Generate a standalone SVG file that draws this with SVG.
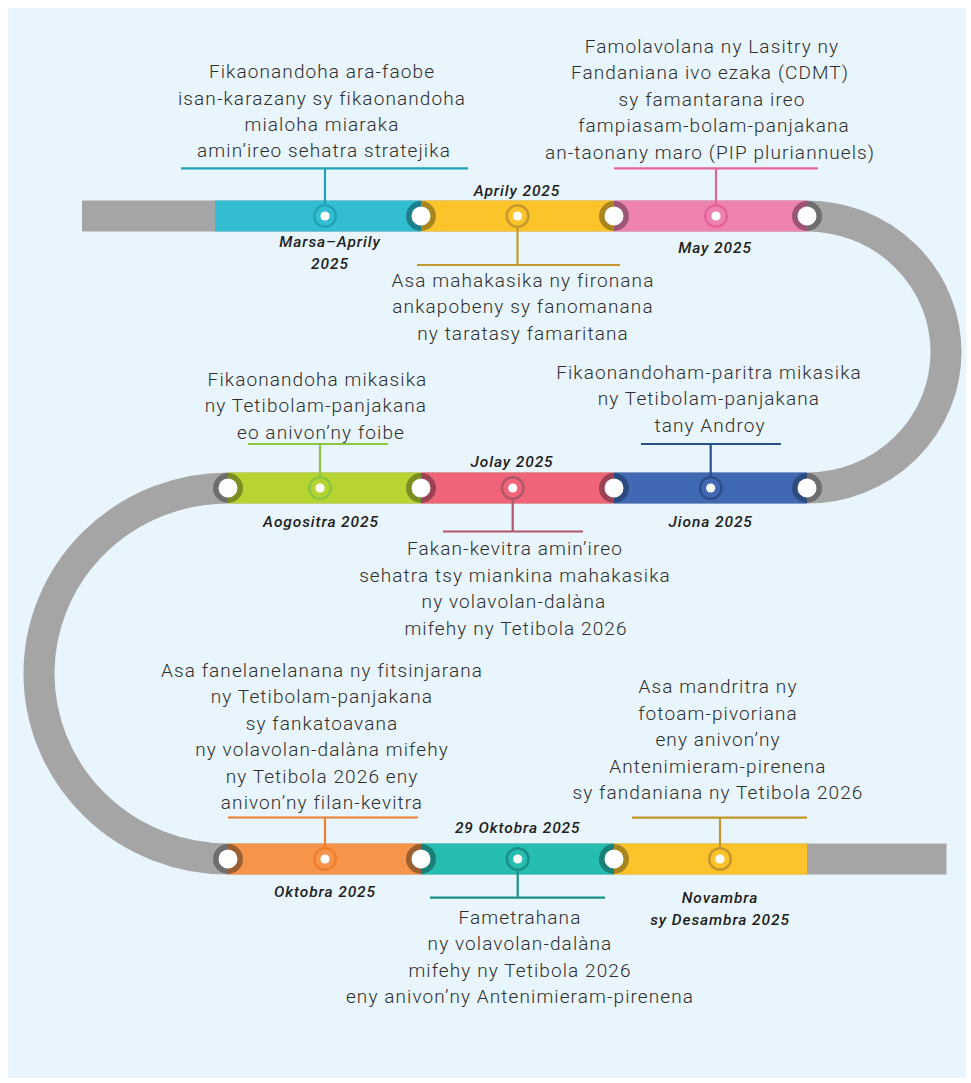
<svg xmlns="http://www.w3.org/2000/svg" width="971" height="1083" viewBox="0 0 971 1083">
<style>
.t{font-family:Roboto,"Liberation Sans",sans-serif;font-weight:300;font-size:19px;letter-spacing:1.1px;fill:#2e2e2e;text-anchor:middle}
.d{font-family:Roboto,"Liberation Sans",sans-serif;font-style:italic;font-weight:500;font-size:15.5px;letter-spacing:0.9px;fill:#1e1e1e;text-anchor:middle}
.w{fill:#ffffff}
.ln{fill:none;stroke-width:2.2}
</style>
<rect x="0" y="0" width="971" height="1083" fill="#ffffff"/>
<rect x="8" y="8" width="958" height="1070" fill="#E9F5FC"/>
<g id="track">
<path d="M82,216 H807 A139,136 0 0 1 807,488 H228 A189,185.5 0 0 0 228,859 H946.5" fill="none" stroke="#A5A5A6" stroke-width="31"/>
<rect x="215" y="200.5" width="206" height="31" fill="#33BDD0"/>
<rect x="421" y="200.5" width="193" height="31" fill="#FCC42A"/>
<rect x="614" y="200.5" width="193" height="31" fill="#EE82B0"/>
<rect x="228" y="472.5" width="193" height="31" fill="#B8D432"/>
<rect x="421" y="472.5" width="193" height="31" fill="#EF6479"/>
<rect x="614" y="472.5" width="193" height="31" fill="#4068B3"/>
<rect x="228" y="843.5" width="193" height="31" fill="#F6944A"/>
<rect x="421" y="843.5" width="193" height="31" fill="#26BDB1"/>
<rect x="614" y="843.5" width="193" height="31" fill="#FCC42A"/>
</g>
<g id="joints">
<g transform="translate(421,216)"><path d="M0,-15 A15,15 0 0 0 0,15 Z" fill="#1E7F8C"/><path d="M0,-15 A15,15 0 0 1 0,15 Z" fill="#A8861F"/><circle r="9.5" class="w"/></g>
<g transform="translate(614,216)"><path d="M0,-15 A15,15 0 0 0 0,15 Z" fill="#A8861F"/><path d="M0,-15 A15,15 0 0 1 0,15 Z" fill="#9C5577"/><circle r="9.5" class="w"/></g>
<g transform="translate(807,216)"><path d="M0,-15 A15,15 0 0 0 0,15 Z" fill="#9C5577"/><path d="M0,-15 A15,15 0 0 1 0,15 Z" fill="#6E6E6F"/><circle r="9.5" class="w"/></g>
<g transform="translate(807,488)"><path d="M0,-15 A15,15 0 0 0 0,15 Z" fill="#2A4A80"/><path d="M0,-15 A15,15 0 0 1 0,15 Z" fill="#6E6E6F"/><circle r="9.5" class="w"/></g>
<g transform="translate(614,488)"><path d="M0,-15 A15,15 0 0 0 0,15 Z" fill="#9B4254"/><path d="M0,-15 A15,15 0 0 1 0,15 Z" fill="#2A4A80"/><circle r="9.5" class="w"/></g>
<g transform="translate(421,488)"><path d="M0,-15 A15,15 0 0 0 0,15 Z" fill="#7A8F23"/><path d="M0,-15 A15,15 0 0 1 0,15 Z" fill="#9B4254"/><circle r="9.5" class="w"/></g>
<g transform="translate(228,488)"><path d="M0,-15 A15,15 0 0 0 0,15 Z" fill="#6E6E6F"/><path d="M0,-15 A15,15 0 0 1 0,15 Z" fill="#7A8F23"/><circle r="9.5" class="w"/></g>
<g transform="translate(228,859)"><path d="M0,-15 A15,15 0 0 0 0,15 Z" fill="#6E6E6F"/><path d="M0,-15 A15,15 0 0 1 0,15 Z" fill="#9C6030"/><circle r="9.5" class="w"/></g>
<g transform="translate(421,859)"><path d="M0,-15 A15,15 0 0 0 0,15 Z" fill="#9C6030"/><path d="M0,-15 A15,15 0 0 1 0,15 Z" fill="#1A7F77"/><circle r="9.5" class="w"/></g>
<g transform="translate(614,859)"><path d="M0,-15 A15,15 0 0 0 0,15 Z" fill="#1A7F77"/><path d="M0,-15 A15,15 0 0 1 0,15 Z" fill="#A8861F"/><circle r="9.5" class="w"/></g>
</g>
<g id="connectors">
<path class="ln" stroke="#1FA3BB" d="M181,168.3 H468 M325,168.3 V205"/>
<path class="ln" stroke="#C49A2E" d="M417,265 H620 M517.5,227 V265"/>
<path class="ln" stroke="#E5639C" d="M614,168.3 H818 M716,168.3 V205"/>
<path class="ln" stroke="#8DC63F" d="M248,444 H388 M320,444 V477"/>
<path class="ln" stroke="#B0566A" d="M443,531.5 H583 M512.7,499 V531.5"/>
<path class="ln" stroke="#2B4F8C" d="M641,444 H781 M710.7,444 V477"/>
<path class="ln" stroke="#F07F2C" d="M228,817.5 H418 M325,817.5 V848"/>
<path class="ln" stroke="#1A9088" d="M430,897.7 H605 M517.7,870 V897.7"/>
<path class="ln" stroke="#C4962A" d="M632,817.7 H807 M720,817.7 V848"/>
</g>
<g id="n1">
<circle cx="325" cy="216" r="10.8" fill="#33BDD0" stroke="#1FA3BB" stroke-width="2.5"/><circle cx="325" cy="216" r="4.6" class="w"/>
<text class="t"><tspan x="322" y="78">Fikaonandoha ara-faobe</tspan><tspan x="322" y="104.5">isan-karazany sy fikaonandoha</tspan><tspan x="322" y="131">mialoha miaraka</tspan><tspan x="324" y="157.3">amin’ireo sehatra stratejika</tspan></text>
<text class="d"><tspan x="330" y="247.3">Marsa–Aprily</tspan><tspan x="330" y="269.3">2025</tspan></text>
</g>
<g id="n2">
<circle cx="517.5" cy="216" r="10.8" fill="#FCC42A" stroke="#C49A2E" stroke-width="2.5"/><circle cx="517.5" cy="216" r="4.6" class="w"/>
<text class="t"><tspan x="523" y="286.7">Asa mahakasika ny fironana</tspan><tspan x="523" y="313.3">ankapobeny sy fanomanana</tspan><tspan x="523" y="340">ny taratasy famaritana</tspan></text>
<text class="d" x="517" y="196">Aprily 2025</text>
</g>
<g id="n3">
<circle cx="716" cy="216" r="10.8" fill="#EE82B0" stroke="#E5639C" stroke-width="2.5"/><circle cx="716" cy="216" r="4.6" class="w"/>
<text class="t"><tspan x="712" y="53.3">Famolavolana ny Lasitry ny</tspan><tspan x="710" y="79.3">Fandaniana ivo ezaka (CDMT)</tspan><tspan x="712" y="106">sy famantarana ireo</tspan><tspan x="714" y="132.3">fampiasam-bolam-panjakana</tspan><tspan x="710" y="159">an-taonany maro (PIP pluriannuels)</tspan></text>
<text class="d" x="715" y="252.7">May 2025</text>
</g>
<g id="n4">
<circle cx="710.7" cy="488" r="10.8" fill="#4068B3" stroke="#2B4F8C" stroke-width="2.5"/><circle cx="710.7" cy="488" r="4.6" class="w"/>
<text class="t"><tspan x="709" y="378.5">Fikaonandoham-paritra mikasika</tspan><tspan x="709" y="405">ny Tetibolam-panjakana</tspan><tspan x="710" y="431.5">tany Androy</tspan></text>
<text class="d" x="710.7" y="527">Jiona 2025</text>
</g>
<g id="n5">
<circle cx="512.7" cy="488" r="10.8" fill="#EF6479" stroke="#B0566A" stroke-width="2.5"/><circle cx="512.7" cy="488" r="4.6" class="w"/>
<text class="t"><tspan x="515" y="555">Fakan-kevitra amin’ireo</tspan><tspan x="515" y="581.5">sehatra tsy miankina mahakasika</tspan><tspan x="514" y="608">ny volavolan-dalàna</tspan><tspan x="516" y="634.5">mifehy ny Tetibola 2026</tspan></text>
<text class="d" x="512" y="466.7">Jolay 2025</text>
</g>
<g id="n6">
<circle cx="320" cy="488" r="10.8" fill="#B8D432" stroke="#8DC63F" stroke-width="2.5"/><circle cx="320" cy="488" r="4.6" class="w"/>
<text class="t"><tspan x="317.5" y="385.5">Fikaonandoha mikasika</tspan><tspan x="316" y="412">ny Tetibolam-panjakana</tspan><tspan x="321" y="438.5">eo anivon’ny foibe</tspan></text>
<text class="d" x="321" y="527">Aogositra 2025</text>
</g>
<g id="n7">
<circle cx="325" cy="859" r="10.8" fill="#F6944A" stroke="#F07F2C" stroke-width="2.5"/><circle cx="325" cy="859" r="4.6" class="w"/>
<text class="t"><tspan x="322" y="676.5">Asa fanelanelanana ny fitsinjarana</tspan><tspan x="322" y="703">ny Tetibolam-panjakana</tspan><tspan x="322" y="729.5">sy fankatoavana</tspan><tspan x="322" y="756">ny volavolan-dalàna mifehy</tspan><tspan x="322" y="782.5">ny Tetibola 2026 eny</tspan><tspan x="322" y="809">anivon’ny filan-kevitra</tspan></text>
<text class="d" x="325" y="897.3">Oktobra 2025</text>
</g>
<g id="n8">
<circle cx="517.7" cy="859" r="10.8" fill="#26BDB1" stroke="#1A9088" stroke-width="2.5"/><circle cx="517.7" cy="859" r="4.6" class="w"/>
<text class="t"><tspan x="520" y="923.5">Fametrahana</tspan><tspan x="520" y="950">ny volavolan-dalàna</tspan><tspan x="520" y="976.5">mifehy ny Tetibola 2026</tspan><tspan x="520" y="1003">eny anivon’ny Antenimieram-pirenena</tspan></text>
<text class="d" x="517.7" y="832.7">29 Oktobra 2025</text>
</g>
<g id="n9">
<circle cx="720" cy="859" r="10.8" fill="#FCC42A" stroke="#C4962A" stroke-width="2.5"/><circle cx="720" cy="859" r="4.6" class="w"/>
<text class="t"><tspan x="718" y="693">Asa mandritra ny</tspan><tspan x="718" y="719.5">fotoam-pivoriana</tspan><tspan x="718" y="746">eny anivon’ny</tspan><tspan x="718" y="772.5">Antenimieram-pirenena</tspan><tspan x="718" y="799">sy fandaniana ny Tetibola 2026</tspan></text>
<text class="d"><tspan x="720" y="903">Novambra</tspan><tspan x="720" y="925">sy Desambra 2025</tspan></text>
</g>
</svg>
